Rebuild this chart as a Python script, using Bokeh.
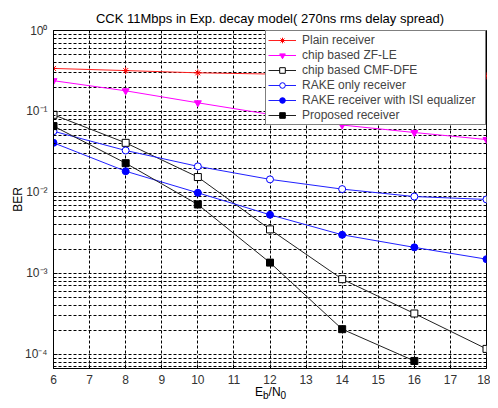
from bokeh.plotting import figure
from bokeh.models import Range1d, FixedTicker, Legend, LegendItem, Div
from bokeh.layouts import column
from bokeh.embed import file_html
from bokeh.resources import INLINE

snr = [6, 8, 10, 12, 14, 16, 18]
snr_prop = [6, 8, 10, 12, 14, 16]
plain = [0.34, 0.32, 0.30, 0.29, 0.285, 0.28, 0.275]
zf_le = [0.24, 0.18, 0.128, 0.092, 0.068, 0.055, 0.045]
cmf_dfe = [0.091, 0.041, 0.0155, 0.0035, 0.00085, 0.00032, 0.000117]
rake_only = [0.057, 0.033, 0.021, 0.0145, 0.011, 0.0089, 0.0082]
rake_isi = [0.041, 0.0183, 0.0099, 0.0053, 0.003, 0.0021, 0.0015]
proposed = [0.066, 0.023, 0.0071, 0.00136, 0.000205, 0.000083]

names = ["Plain receiver", "chip based ZF-LE", "chip based CMF-DFE",
         "RAKE only receiver", "RAKE receiver with ISI equalizer", "Proposed receiver"]
x_ticks = list(range(6, 19))
y_major = [1e-4, 1e-3, 1e-2, 1e-1, 1.0]
y_labels = ["10\u207b\u2074", "10\u207b\u00b3", "10\u207b\u00b2", "10\u207b\u00b9", "10\u2070"]
title_text = "CCK 11Mbps in Exp. decay model( 270ns rms delay spread)"

FONT = "Liberation Sans"

p = figure(width=490, height=386, x_axis_type="linear", y_axis_type="log",
           x_range=Range1d(6, 18), y_range=Range1d(6.7e-5, 1.0),
           output_backend="svg", toolbar_location=None,
           min_border_left=53, min_border_right=4, min_border_top=30, min_border_bottom=18)
p.background_fill_color = "white"
p.border_fill_color = "white"
p.outline_line_color = "black"
p.outline_line_width = 1

p.title.text = title_text
p.title.align = "center"
p.title.text_font = FONT
p.title.text_font_size = "13px"
p.title.text_font_style = "normal"
p.title.text_color = "black"
p.title.standoff = 10

minor = []
for e in range(-5, 0):
    for k in range(2, 10):
        minor.append(k * 10.0 ** e)

p.xaxis.ticker = FixedTicker(ticks=x_ticks)
p.yaxis.ticker = FixedTicker(ticks=y_major, minor_ticks=minor)
p.yaxis.major_label_overrides = {v: s for v, s in zip(y_major, y_labels)}

for ax in (p.xaxis, p.yaxis):
    ax.major_tick_in = 4
    ax.major_tick_out = 0
    ax.minor_tick_in = 2
    ax.minor_tick_out = 0
    ax.axis_line_color = "black"
    ax.major_label_text_font = FONT
    ax.major_label_text_font_size = "12px"
    ax.major_label_text_color = "#333333"
    ax.major_label_standoff = 6
p.xaxis.minor_tick_line_color = None

p.yaxis.axis_label = "BER"
p.yaxis.axis_label_text_font = FONT
p.yaxis.axis_label_text_font_size = "12px"
p.yaxis.axis_label_text_font_style = "normal"
p.yaxis.axis_label_text_color = "black"
p.yaxis.axis_label_standoff = -3

for g in (p.xgrid, p.ygrid):
    g.grid_line_color = "black"
    g.grid_line_dash = "3 2"
    g.grid_line_width = 1
p.ygrid.minor_grid_line_color = "black"
p.ygrid.minor_grid_line_dash = "3 2"

items = []
r = p.line(snr, plain, line_color="#ff2020")
m = p.scatter(snr, plain, marker="asterisk", size=7, line_color="red")
items.append(LegendItem(label=names[0], renderers=[r, m]))

r = p.line(snr, zf_le, line_color="#ff00ff")
m = p.scatter(snr, zf_le, marker="inverted_triangle", size=7, line_color="#ff00ff", fill_color="#ff00ff")
items.append(LegendItem(label=names[1], renderers=[r, m]))

r = p.line(snr, cmf_dfe, line_color="#202020")
m = p.scatter(snr, cmf_dfe, marker="square", size=7, line_color="black", fill_color="white")
items.append(LegendItem(label=names[2], renderers=[r, m]))

r = p.line(snr, rake_only, line_color="#2020ff")
m = p.scatter(snr, rake_only, marker="circle", size=7, line_color="blue", fill_color="white")
items.append(LegendItem(label=names[3], renderers=[r, m]))

r = p.line(snr, rake_isi, line_color="#2020ff")
m = p.scatter(snr, rake_isi, marker="circle", size=7, line_color="blue", fill_color="blue")
items.append(LegendItem(label=names[4], renderers=[r, m]))

r = p.line(snr_prop, proposed, line_color="#202020")
m = p.scatter(snr_prop, proposed, marker="square", size=7, line_color="black", fill_color="black")
items.append(LegendItem(label=names[5], renderers=[r, m]))

legend = Legend(items=items, location="top_right", margin=0, padding=2, spacing=1,
                label_text_font=FONT, label_text_font_size="12px", label_height=14,
                label_width=181, glyph_height=14, glyph_width=28, label_standoff=6,
                border_line_color="black", border_line_width=1,
                background_fill_color="white", background_fill_alpha=1.0)
p.add_layout(legend)

xlabel = Div(text="E<sub>b</sub>/N<sub>0</sub>", width=60, height=14, margin=(0, 0, 0, 255),
             styles={"font-family": FONT, "font-size": "12px", "line-height": "12px", "color": "black"})

layout = column(p, xlabel, spacing=0)

open("out.html", "w").write(file_html(layout, INLINE))
